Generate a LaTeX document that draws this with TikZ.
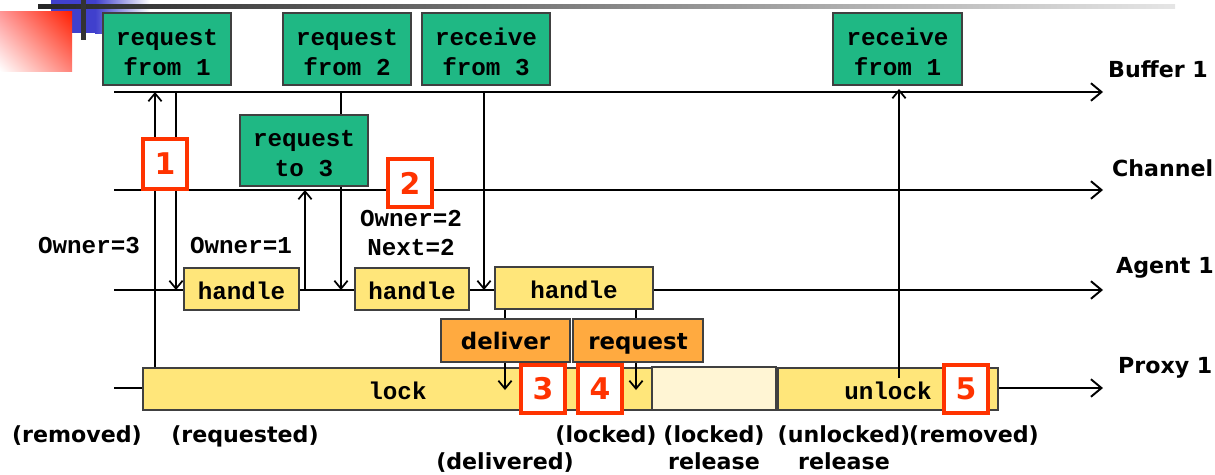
\documentclass[tikz,border=0pt]{standalone}
\usepackage{fontspec}
\setmainfont{DejaVu Sans}
\newfontfamily\monof{Liberation Mono}
\usetikzlibrary{fit,arrows.meta,calc,shadings}
\definecolor{grn}{RGB}{31,184,132}
\definecolor{ylw}{RGB}{255,230,122}
\definecolor{crm}{RGB}{255,245,212}
\definecolor{org}{RGB}{255,170,64}
\definecolor{rd}{RGB}{255,51,0}
\definecolor{blu}{RGB}{64,64,205}
\definecolor{redA}{RGB}{255,30,0}
\definecolor{redB}{RGB}{255,150,150}
\definecolor{redC}{RGB}{255,130,120}
\tikzset{
  boxbase/.style={draw=black!75, line width=0.6pt, inner sep=0pt},
  gbox/.style={boxbase, fill=grn},
  ybox/.style={boxbase, fill=ylw},
  cbox/.style={boxbase, fill=crm},
  obox/.style={boxbase, fill=org},
  rbox/.style={draw=rd, line width=2.2pt, fill=white, inner sep=0pt},
  monotext/.style={inner sep=0pt, align=center, font=\monof\bfseries\fontsize{13.8}{17}\selectfont},
  gtext/.style={monotext, yshift=-1.8pt},
  ytext/.style={monotext, text height=0.68em, text depth=0em, yshift=-2.6pt},
  otext/.style={inner sep=0pt, text height=0.78em, text depth=0em, yshift=-1.2pt, font=\bfseries\fontsize{13}{15}\selectfont},
  rtext/.style={inner sep=0pt, text=rd, font=\bfseries\fontsize{17}{19}\selectfont},
  tline/.style={line width=1.1pt, -{Straight Barb[length=6pt,width=10pt,line width=1.1pt]}},
  varrow/.style={line width=0.8pt, -{Straight Barb[length=4.5pt,width=7.5pt,line width=1pt]}},
  vline/.style={line width=0.8pt},
  monolab/.style={font=\monof\bfseries\fontsize{13.8}{16.4}\selectfont, align=center},
  sanslab/.style={font=\bfseries\fontsize{12.6}{15}\selectfont}
}
\begin{document}
\begin{tikzpicture}[x=0.02cm,y=-0.02cm]
\useasboundingbox (0,0) rectangle (1215,474);
% decoration
\fill[blu] (51,0) rectangle (95,33);
\shade[left color=blu, right color=white] (95,0) rectangle (150,33);
\shade[upper right=redA, upper left=redB, lower right=redC, lower left=white] (0,11) rectangle (72,71);
\shade[left color=black!85, right color=black!10] (38,4) rectangle (1175,8.5);
\fill[black!80] (81,0) rectangle (86,40);
% timelines
\coordinate (B0) at (114,92);  \coordinate (B1) at (1103,92);
\coordinate (C0) at (114,190); \coordinate (C1) at (1103,190);
\coordinate (A0) at (114,290); \coordinate (A1) at (1103,290);
\coordinate (P0) at (114,388); \coordinate (P1) at (1103,388);
\draw[tline] (B0) -- (B1);
\draw[tline] (C0) -- (C1);
\draw[tline] (A0) -- (A1);
\draw[tline] (P0) -- (P1);
\node[anchor=west, sanslab] (lb) at (1102,69) {Buffer 1};
\node[anchor=west, sanslab] (lc) at (1106,168) {Channel};
\node[anchor=west, sanslab] (la) at (1110,268) {Agent 1};
\node[anchor=west, sanslab] (lp) at (1112,368) {Proxy 1};
% proxy bars
\node[ybox, fit={(143,368) (652,410)}] (lock) {};
\node[ytext] (lockt) at (lock) {lock};
\node[cbox, fit={(652,367) (776,410)}] (rel) {};
\node[ybox, fit={(778,368) (998,410)}] (unl) {};
\node[ytext] (unlt) at (unl) {unlock};
% vertical arrows
\coordinate (v1) at (155,0);
\coordinate (v2) at (176,0);
\coordinate (v3) at (305,0);
\coordinate (v4) at (341,0);
\coordinate (v5) at (484,0);
\coordinate (u6) at (899,378);
\draw[varrow] (lock.north -| v1) -- (v1 |- B0);
\draw[varrow] (v2 |- B0) -- (v2 |- A0);
\draw[varrow] (v3 |- A0) -- (v3 |- C0);
\draw[varrow] (v4 |- B0) -- (v4 |- A0);
\draw[varrow] (v5 |- B0) -- (v5 |- A0);
\draw[varrow] (u6) -- ($(u6 |- B0)+(0,-3)$);
% green boxes
\node[gbox, fit={(103,13) (231,85)}] (rq1) {};
\node[gtext] (rq1t) at (rq1) {request\\from 1};
\node[gbox, fit={(283,13) (411,85)}] (rq2) {};
\node[gtext] (rq2t) at (rq2) {request\\from 2};
\node[gbox, fit={(422,13) (550,85)}] (rv3) {};
\node[gtext] (rv3t) at (rv3) {receive\\from 3};
\node[gbox, fit={(833,13) (962,85)}] (rv1) {};
\node[gtext] (rv1t) at (rv1) {receive\\from 1};
\node[gbox, fit={(240,115) (368,186)}] (rt3) {};
\node[gtext] (rt3t) at (rt3) {request\\to 3};
% handle boxes
\node[ybox, fit={(184,268) (299,310)}] (h1) {};
\node[ytext] (h1t) at (h1) {handle};
\node[ybox, fit={(355,268) (469,310)}] (h2) {};
\node[ytext] (h2t) at (h2) {handle};
\node[ybox, fit={(495,267) (653,309)}] (h3) {};
\node[ytext] (h3t) at (h3) {handle};
% orange boxes
\node[obox, fit={(441,319) (570,362)}] (dl) {};
\node[otext] (dlt) at (dl) {deliver};
\node[obox, fit={(573,319) (703,362)}] (rq) {};
\node[otext] (rqt) at (rq) {request};
\coordinate (v7) at (505,390);
\coordinate (v8) at (636,390);
\draw[vline] (h3.south -| v7) -- (dl.north -| v7);
\draw[vline] (h3.south -| v8) -- (rq.north -| v8);
\draw[varrow] (dl.south -| v7) -- (v7);
\draw[varrow] (rq.south -| v8) -- (v8);
% red markers
\node[rbox, fit={(143,139) (187,189)}] (m1) {};
\node[rtext] (m1t) at (m1) {1};
\node[rbox, fit={(388,159) (432,207)}] (m2) {};
\node[rtext] (m2t) at (m2) {2};
\node[rbox, fit={(521,365) (565,413)}] (m3) {};
\node[rtext] (m3t) at (m3) {3};
\node[rbox, fit={(578,365) (622,413)}] (m4) {};
\node[rtext] (m4t) at (m4) {4};
\node[rbox, fit={(944,365) (988,413)}] (m5) {};
\node[rtext] (m5t) at (m5) {5};
% owner labels
\node[monolab] (o3) at (89,246) {Owner=3};
\node[monolab] (o1) at (241,246) {Owner=1};
\node[monolab] (o2) at (411,233) {Owner=2\\Next=2};
% bottom state labels
\node[sanslab, anchor=base] (s1) at (77,442) {(removed)};
\node[sanslab, anchor=base] (s2) at (245,442) {(requested)};
\node[sanslab, anchor=base] (s3) at (505,469) {(delivered)};
\node[sanslab, anchor=base] (s4) at (606,442) {(locked)};
\node[sanslab, anchor=base] (s5) at (714,442) {(locked)};
\node[sanslab, anchor=base] (s5b) at (714,469) {release};
\node[sanslab, anchor=base] (s6) at (844,442) {(unlocked)};
\node[sanslab, anchor=base] (s6b) at (844,469) {release};
\node[sanslab, anchor=base] (s7) at (974,442) {(removed)};
\end{tikzpicture}
\end{document}
